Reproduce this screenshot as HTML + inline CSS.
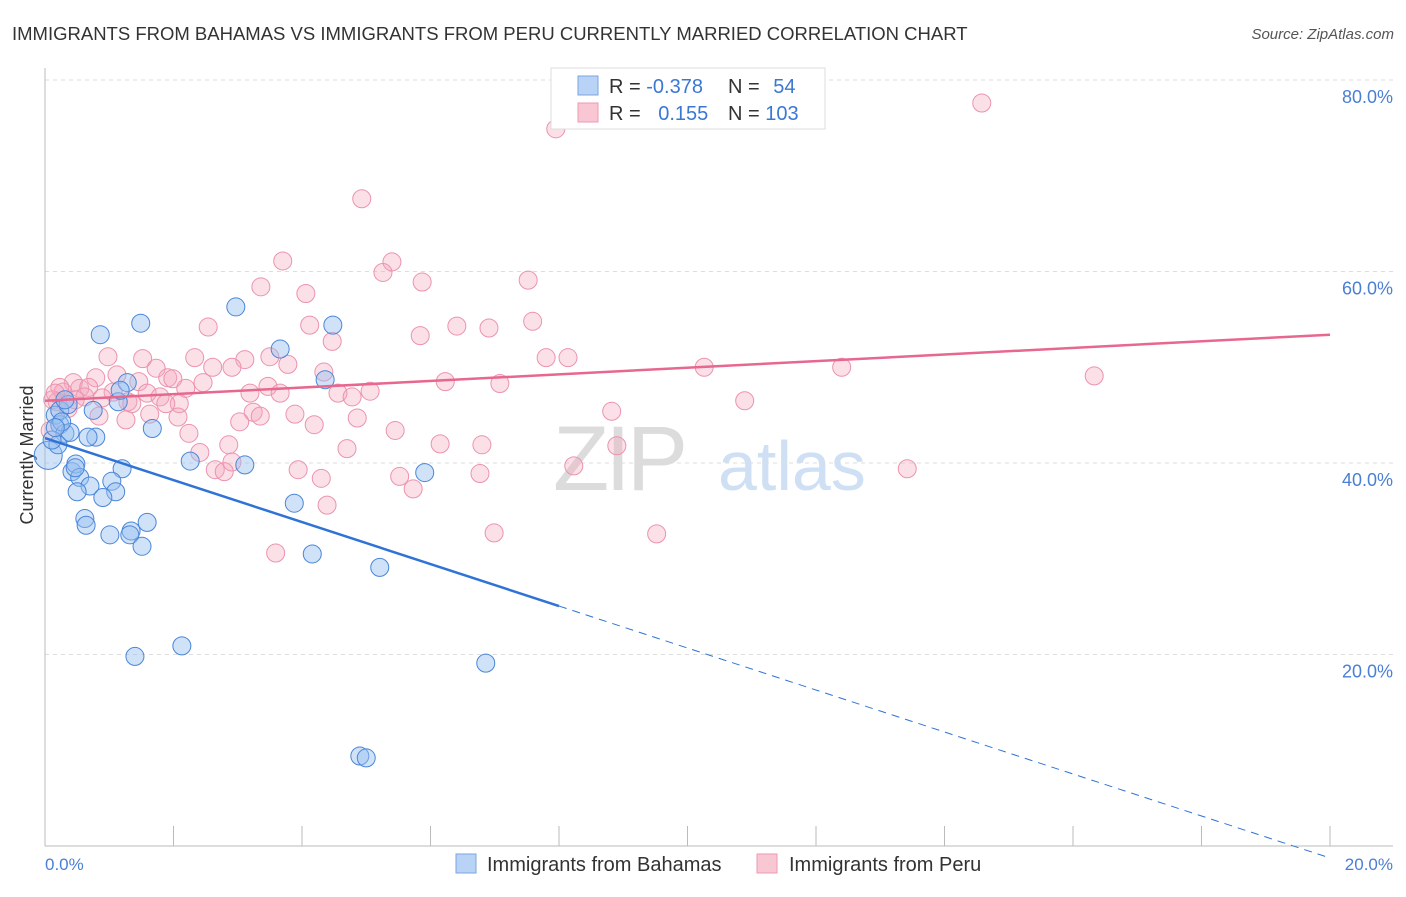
<!DOCTYPE html>
<html><head><meta charset="utf-8"><style>
body{margin:0;background:#fff;font-family:"Liberation Sans",sans-serif}
svg text{font-family:"Liberation Sans",sans-serif}
</style></head><body>
<svg id="chart" width="1406" height="892" xmlns="http://www.w3.org/2000/svg">
<text x="12" y="40" font-size="18.5" fill="#333">IMMIGRANTS FROM BAHAMAS VS IMMIGRANTS FROM PERU CURRENTLY MARRIED CORRELATION CHART</text>
<text x="1394" y="39" font-size="15" fill="#555" text-anchor="end" font-style="italic">Source: ZipAtlas.com</text>
<g>
<text x="553" y="490" font-size="92" fill="#dcdcdc" font-family="Liberation Serif" letter-spacing="-4">ZIP</text>
<text x="718" y="490" font-size="70" fill="#cfe0f4">atlas</text>
</g>
<g id="grid"></g>
<line x1="45" y1="68" x2="45" y2="846" stroke="#bbb"/>
<line x1="45" y1="846" x2="1393" y2="846" stroke="#bbb"/>
<g id="xticks"></g>
<text transform="translate(33,455) rotate(-90)" font-size="18" fill="#333" text-anchor="middle">Currently Married</text>
<text x="45" y="870" font-size="17" fill="#4a7fd4">0.0%</text>
<text x="1393" y="870" font-size="17" fill="#4a7fd4" text-anchor="end">20.0%</text>
<g id="points"></g>
<g id="lines"></g>
<g>
<rect x="551" y="68" width="274" height="61" fill="#fff" stroke="#ddd"/>
<rect x="578" y="76" width="20" height="19" fill="#b8d3f5" stroke="#7aa6e0"/>
<rect x="578" y="103" width="20" height="19" fill="#f9c6d4" stroke="#eb9ab2"/>
<text x="609" y="93" font-size="20" fill="#333">R = <tspan fill="#3a78d4">-0.378</tspan></text>
<text x="728" y="93" font-size="20" fill="#333">N = <tspan fill="#3a78d4" dx="8">54</tspan></text>
<text x="609" y="120" font-size="20" fill="#333">R = <tspan fill="#3a78d4" dx="12">0.155</tspan></text>
<text x="728" y="120" font-size="20" fill="#333">N = <tspan fill="#3a78d4">103</tspan></text>
</g>
<g>
<rect x="456" y="854" width="20" height="19" fill="#b8d3f5" stroke="#7aa6e0"/>
<text x="487" y="871" font-size="20" fill="#333">Immigrants from Bahamas</text>
</g>
<g>
<rect x="757" y="854" width="20" height="19" fill="#f9c6d4" stroke="#eb9ab2"/>
<text x="789" y="871" font-size="20" fill="#333">Immigrants from Peru</text>
</g>
</svg>
<script>
const yTicks=[20,40,60,80];
const yTickLabels=["20.0%","40.0%","60.0%","80.0%"];
const xTicks=[0,2,4,6,8,10,12,14,16,18,20];
const bahamasX=[0.05,0.16,0.23,0.31,0.39,0.23,0.26,0.36,0.86,1.49,2.97,4.48,3.66,4.36,1.28,1.14,0.75,0.79,0.67,1.67,2.26,3.11,1.20,0.42,0.48,0.54,0.70,1.04,1.10,0.50,0.90,0.62,0.64,1.59,1.34,1.01,1.32,1.51,3.88,4.16,5.21,5.91,2.13,1.40,6.86,4.90,5.00,0.20,0.11,0.31,1.17,0.47,0.16];
const bahamasY=[40.8,45.0,44.0,43.1,43.2,45.5,44.3,46.1,53.4,54.6,56.3,54.4,51.9,48.7,48.4,46.4,45.5,42.7,42.7,43.6,40.2,39.8,39.4,39.1,39.9,38.5,37.6,38.1,37.0,37.0,36.4,34.2,33.5,33.8,32.9,32.5,32.5,31.3,35.8,30.5,29.1,39.0,20.9,19.8,19.1,9.4,9.2,41.9,42.4,46.6,47.6,39.5,43.7];
const peruX=[14.58,7.95,4.93,3.70,5.40,5.26,5.87,7.52,3.36,4.06,7.59,6.41,6.91,2.54,4.12,5.84,4.47,0.98,1.52,2.33,3.11,3.50,3.78,7.80,8.14,10.26,12.40,16.33,1.73,2.61,2.91,4.34,1.12,1.91,1.99,1.46,0.79,0.44,2.46,6.23,7.08,2.19,3.47,0.54,0.68,0.28,0.23,1.06,1.59,3.19,3.66,4.56,5.06,4.78,1.79,1.29,0.89,0.62,2.09,1.88,1.35,10.89,0.19,0.36,3.24,3.35,3.89,8.82,0.84,1.63,2.07,1.26,3.03,4.86,4.19,5.45,2.24,6.15,6.80,8.90,2.86,2.41,4.70,2.91,8.23,13.42,2.65,2.79,3.94,5.52,6.77,4.30,5.73,4.39,6.99,9.52,3.59,0.12,0.08,0.16,0.47];
const peruY=[77.6,74.9,67.6,61.1,61.0,59.9,58.9,59.1,58.4,57.7,54.8,54.3,54.1,54.2,54.4,53.3,52.7,51.1,50.9,51.0,50.8,51.1,50.3,51.0,51.0,50.0,50.0,49.1,49.9,50.0,50.0,49.5,49.2,48.9,48.8,48.5,48.9,48.4,48.4,48.5,48.3,47.8,48.0,47.8,47.9,47.4,47.9,47.4,47.3,47.3,47.3,47.3,47.5,46.9,46.9,46.4,46.8,46.9,46.2,46.2,46.2,46.5,46.4,45.7,45.3,44.9,45.1,45.4,44.9,45.1,44.8,44.5,44.3,44.7,44.0,43.4,43.1,42.0,41.9,41.8,41.9,41.1,41.5,40.1,39.7,39.4,39.3,39.1,39.3,38.6,38.9,38.4,37.3,35.6,32.7,32.6,30.6,46.6,43.4,47.3,46.6];
const bahamasTrend=[42.6,-1.25];
const peruTrend=[46.5,53.4];
const NS="http://www.w3.org/2000/svg";
const sx=v=>45+v/20*1285;
const sy=v=>846-v/20*191.5;
function mk(t,a,p){const e=document.createElementNS(NS,t);for(const k in a)e.setAttribute(k,a[k]);p.appendChild(e);return e;}
const grid=document.getElementById('grid');
yTicks.forEach((t,i)=>{
 const l=mk('line',{x1:45,x2:1393,y1:sy(t),y2:sy(t),stroke:'#ddd','stroke-dasharray':'4,4'},grid);
 
 
 const tx=mk('text',{x:1393,y:sy(t)+23,'font-size':18,fill:'#4a7fd4','text-anchor':'end'},grid);
 tx.textContent=yTickLabels[i];
 
 
});
const xt=document.getElementById('xticks');
xTicks.forEach(t=>{
 const l=mk('line',{x1:sx(t),x2:sx(t),y1:826,y2:846,stroke:'#bbb'},xt);
 
 
});
const pts=document.getElementById('points');
peruX.forEach((x,i)=>{
 const c=mk('circle',{cx:sx(x),cy:sy(peruY[i]),r:9,fill:'rgba(244,165,188,0.35)',stroke:'#ec93ae','stroke-width':1},pts);
 
 
});
bahamasX.forEach((x,i)=>{
 const c=mk('circle',{cx:sx(x),cy:sy(bahamasY[i]),r:i==0?14:9,fill:'rgba(150,190,240,0.45)',stroke:'#4a86d8','stroke-width':1},pts);
 
 
});
const ln=document.getElementById('lines');
const bx=8, by=bahamasTrend[0]+(bahamasTrend[1]-bahamasTrend[0])*bx/20;
const b1=mk('line',{x1:sx(0),y1:sy(bahamasTrend[0]),x2:sx(bx),y2:sy(by),stroke:'#2f73d6','stroke-width':2.5},ln);


const b2=mk('line',{x1:sx(bx),y1:sy(by),x2:sx(20),y2:sy(bahamasTrend[1]),stroke:'#2f73d6','stroke-width':1,'stroke-dasharray':'8,6'},ln);


const p1=mk('line',{x1:sx(0),y1:sy(peruTrend[0]),x2:sx(20),y2:sy(peruTrend[1]),stroke:'#e8678f','stroke-width':2.5},ln);


</script>
</body></html>
